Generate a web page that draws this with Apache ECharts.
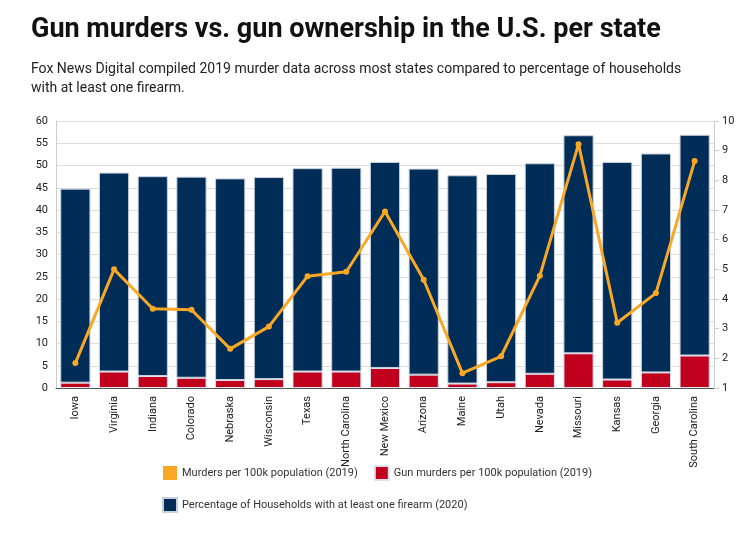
<!DOCTYPE html>
<html>
<head>
<meta charset="utf-8">
<script src="https://cdn.jsdelivr.net/npm/echarts@6/dist/echarts.min.js"></script>
<style>
html,body{margin:0;padding:0;background:#fff;}
#chart{width:754px;height:536px;}
</style>
</head>
<body>
<div id="chart"></div>
<script>
var states = ['Iowa','Virginia','Indiana','Colorado','Nebraska','Wisconsin','Texas','North Carolina','New Mexico','Arizona','Maine','Utah','Nevada','Missouri','Kansas','Georgia','South Carolina'];
// gun murders per 100k (left axis)
var gunMurders = [1.2,3.7,2.7,2.3,1.8,2.0,3.7,3.7,4.5,3.0,1.0,1.3,3.2,7.8,1.9,3.5,7.3];
// households with a firearm, stacked on top of gun murders (left axis)
var households = [43.6,44.7,44.9,45.2,45.3,45.4,45.7,45.8,46.3,46.3,46.8,46.8,47.3,49.0,48.9,49.2,49.6];
// murders per 100k (right axis)
var murders = [1.84,5.0,3.67,3.64,2.32,3.07,4.77,4.92,6.95,4.65,1.5,2.07,4.78,9.22,3.2,4.2,8.65];

var chart = echarts.init(document.getElementById('chart'));
var font = 'Roboto';
chart.setOption({
	backgroundColor:'#fff',
	textStyle:{fontFamily:font},
	title:[{
		text:'Gun murders vs. gun ownership in the U.S. per state',
		left:26, top:12,
		textStyle:{fontSize:27, fontWeight:'bold', color:'#111', fontFamily:font}
	},{
		text:'Fox News Digital compiled 2019 murder data across most states compared to percentage of households\nwith at least one firearm.',
		left:26, top:55,
		textStyle:{fontSize:14, fontWeight:'normal', color:'#222', lineHeight:19, fontFamily:font}
	}],
	legend:{
		bottom:18, left:'center', width:470,
		itemWidth:14, itemHeight:14, itemGap:16,
		icon:'rect',
		textStyle:{fontSize:11, color:'#333'},
		data:['Murders per 100k population (2019)','Gun murders per 100k population (2019)','Percentage of Households with at least one firearm (2020)']
	},
	grid:{left:56, right:40, top:121, bottom:148},
	xAxis:{
		type:'category', data:states,
		axisLine:{lineStyle:{color:'#555'}},
		axisTick:{alignWithLabel:true, lineStyle:{color:'#777'}},
		axisLabel:{rotate:90, fontSize:11, color:'#222', interval:0}
	},
	yAxis:[{
		type:'value', min:0, max:60, interval:5,
		axisLine:{show:true, lineStyle:{color:'#ccc'}},
		axisLabel:{fontSize:11, color:'#222'},
		splitLine:{lineStyle:{color:'#ddd'}}
	},{
		type:'value', min:1, max:10, interval:1,
		axisLine:{show:true, lineStyle:{color:'#ccc'}},
		axisTick:{show:true, lineStyle:{color:'#ccc'}},
		axisLabel:{fontSize:11, color:'#222'},
		splitLine:{show:false}
	}],
	series:[{
		name:'Gun murders per 100k population (2019)', type:'bar', stack:'a',
		data:gunMurders, barCategoryGap:'22%',
		itemStyle:{color:'#c0001c', borderColor:'#dde3ee', borderWidth:1}
	},{
		name:'Percentage of Households with at least one firearm (2020)', type:'bar', stack:'a',
		data:households,
		itemStyle:{color:'#002d57', borderColor:'#c8d0dc', borderWidth:1}
	},{
		name:'Murders per 100k population (2019)', type:'line', yAxisIndex:1,
		data:murders, symbol:'circle', symbolSize:6,
		lineStyle:{color:'#f9a825', width:3},
		itemStyle:{color:'#f9a825'}
	}]
});
</script>
</body>
</html>
